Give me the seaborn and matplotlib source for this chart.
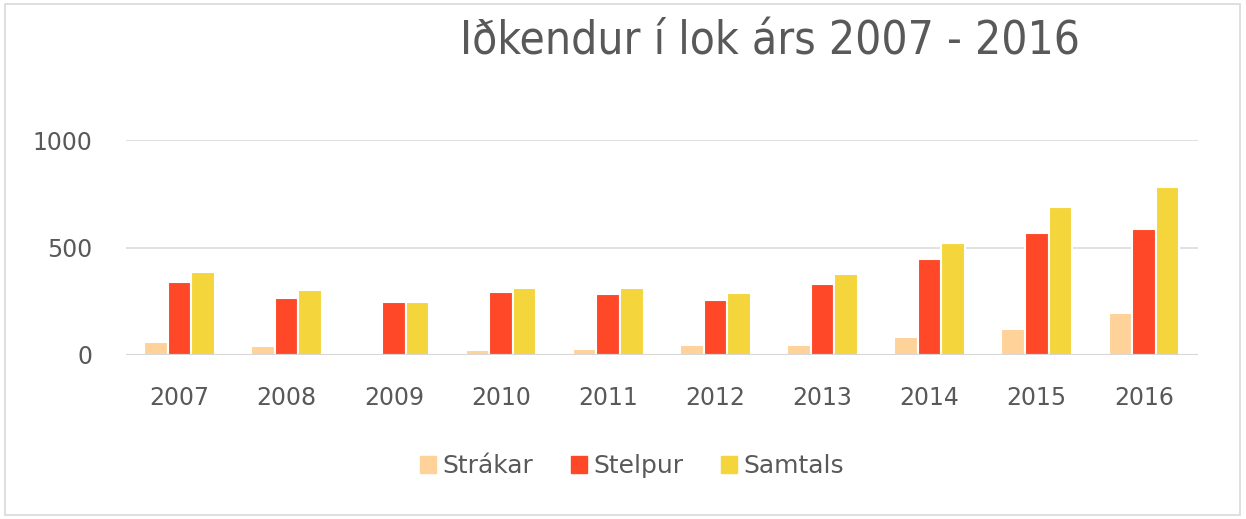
import pandas as pd
import numpy as np
import matplotlib.pyplot as plt
import seaborn as sns
from matplotlib.patches import Rectangle

years = ['2007', '2008', '2009', '2010', '2011', '2012', '2013', '2014', '2015', '2016']
strakar = [59, 40, 0, 22, 29, 48, 48, 85, 119, 196]
stelpur = [338, 264, 245, 292, 282, 254, 329, 445, 570, 587]
samtals = [385, 301, 245, 310, 310, 290, 375, 522, 690, 783]

series_names = ['Strákar', 'Stelpur', 'Samtals']
series_colors = ['#FFD29A', '#FF4828', '#F4D63C']

df = pd.DataFrame({
    'Ár': years * 3,
    'Fjöldi': strakar + stelpur + samtals,
    'Hópur': [n for n in series_names for _ in years],
})

sns.set_style('white')
plt.rcParams['font.family'] = ['DejaVu Sans']
text_color = '#595959'

fig = plt.figure(figsize=(12.46, 5.19), dpi=100)
ax = fig.add_axes([0.1011, 0.316, 0.860, 0.414])

sns.barplot(data=df, x='Ár', y='Fjöldi', hue='Hópur', order=years,
            hue_order=series_names, palette=series_colors, width=0.66,
            edgecolor='white', linewidth=1.5, saturation=1, ax=ax, zorder=3)

ax.set_ylim(0, 1000)
ax.set_yticks([0, 500, 1000])
ax.set_xlim(-0.5, len(years) - 0.5)
ax.yaxis.grid(True, color='#dcdcdc', linewidth=1.2, zorder=0)
ax.set_axisbelow(True)
for s in ax.spines.values():
    s.set_visible(False)
ax.axhline(0, color='#d6d6d6', linewidth=1.5, zorder=5)
ax.tick_params(axis='both', length=0, labelsize=17, labelcolor=text_color)
ax.tick_params(axis='y', pad=24)
ax.tick_params(axis='x', pad=22)
ax.set_xlabel('')
ax.set_ylabel('')
ax.get_legend().remove()

handles = [Rectangle((0, 0), 1, 1, color=c) for c in series_colors]
leg = fig.legend(handles, series_names, loc='center', bbox_to_anchor=(0.507, 1 - 466 / 519),
                 ncol=3, frameon=False, fontsize=18, handlelength=0.65, handleheight=0.65,
                 handletextpad=0.25, columnspacing=1.5)
for t in leg.get_texts():
    t.set_color(text_color)

fig.text(770 / 1246, 1 - 42 / 519, 'Iðkendur í lok árs 2007 - 2016', ha='center', va='center',
         fontsize=33, fontstretch='condensed', color=text_color, family='DejaVu Sans')

fig.patches.append(Rectangle((5 / 1246, 4 / 519), 1235 / 1246, 511 / 519, transform=fig.transFigure,
                             fill=False, edgecolor='#d9d9d9', linewidth=1.2))

fig.savefig('out.png', dpi=100)
